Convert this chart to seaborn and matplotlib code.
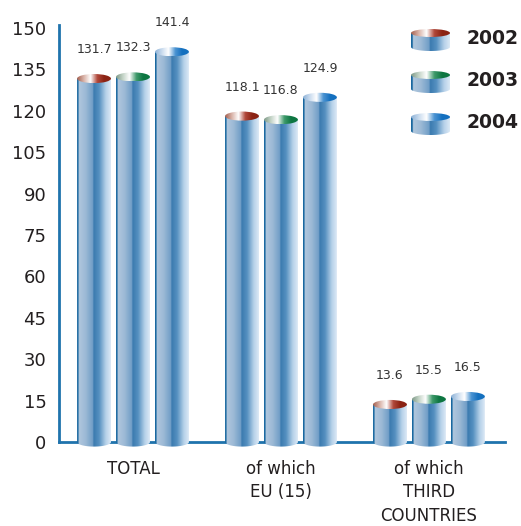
import numpy as np
import pandas as pd
import matplotlib
matplotlib.use('Agg')
import matplotlib.pyplot as plt
import seaborn as sns
from matplotlib.colors import LinearSegmentedColormap
from matplotlib.patches import Ellipse, Polygon

# Data
categories = ['TOTAL', 'of which\nEU (15)', 'of which\nTHIRD\nCOUNTRIES']
years = ['2002', '2003', '2004']
v2002 = [131.7, 118.1, 13.6]
v2003 = [132.3, 116.8, 15.5]
v2004 = [141.4, 124.9, 16.5]
yticks = list(range(0, 151, 15))

df = pd.DataFrame({
    'category': categories * 3,
    'year': np.repeat(years, 3),
    'value': v2002 + v2003 + v2004,
})

# cylinder colours
body_cmap = LinearSegmentedColormap.from_list('body', [
    (0.00, '#1a68a0'), (0.04, '#1a68a0'), (0.05, '#b0c7dd'),
    (0.25, '#9dbad6'), (0.47, '#6f9dc6'), (0.49, '#3a7aaf'),
    (0.65, '#5590c0'), (0.85, '#b6d1e9'), (1.00, '#dce9f6')])
top_cmaps = {
    '2002': LinearSegmentedColormap.from_list('c02', ['#a4604f', '#d9b3a8', '#ffffff', '#b0483a', '#8c2314', '#8a2314']),
    '2003': LinearSegmentedColormap.from_list('c03', ['#7f9a88', '#c3d3c6', '#ffffff', '#3f9a6b', '#0d7641', '#0d7641']),
    '2004': LinearSegmentedColormap.from_list('c04', ['#8db1d6', '#c9dbee', '#ffffff', '#4a93d2', '#1470bf', '#1470bf']),
}
grad = np.linspace(0, 1, 256).reshape(1, -1)
axis_blue = '#1f73ad'
text_col = '#231f20'


def draw_cylinder(ax, x0, w, y0, y1, eh, cmap, z=3):
    cx = x0 + w / 2
    t = np.linspace(0, -np.pi, 60)
    pts = [(x0, y1), (x0 + w, y1)] + list(zip(cx + w / 2 * np.cos(t), y0 + eh / 2 * np.sin(t)))
    clip = Polygon(pts, closed=True, transform=ax.transData, facecolor='none', edgecolor='none')
    im = ax.imshow(grad, cmap=body_cmap, extent=[x0, x0 + w, y0 - eh / 2, y1],
                   aspect='auto', interpolation='bilinear', zorder=z)
    im.set_clip_path(clip)
    ell = Ellipse((cx, y1), w, eh, transform=ax.transData)
    im2 = ax.imshow(grad, cmap=cmap, extent=[x0, x0 + w, y1 - eh / 2, y1 + eh / 2],
                    aspect='auto', interpolation='bilinear', zorder=z + 0.1)
    im2.set_clip_path(ell)


sns.set_theme(style='white')
plt.rcParams['font.family'] = ['DejaVu Sans']

fig = plt.figure(figsize=(5.21, 5.26), dpi=100)
ax = fig.add_axes([59 / 521, 75.7 / 526, 446 / 521, 425 / 526])

sns.barplot(data=df, x='category', y='value', hue='year', hue_order=years,
            width=0.79, gap=0.13, legend=False, ax=ax)

eh = 3.3
for year, cont in zip(years, ax.containers):
    for bar in cont:
        bar.set_visible(False)
        x0, w, h = bar.get_x(), bar.get_width(), bar.get_height()
        draw_cylinder(ax, x0, w, 0, h, eh, top_cmaps[year])
        ax.annotate(f'{h:.1f}', (x0 + w / 2, h), xytext=(0, 29), textcoords='offset pixels',
                    ha='center', va='center', fontsize=9, color='#333333')

ax.set_xlim(-0.5, 2.514)
ax.set_ylim(-3, 151)
ax.set_yticks(yticks)
ax.set_xlabel('')
ax.set_ylabel('')
ax.spines['top'].set_visible(False)
ax.spines['right'].set_visible(False)
ax.spines['bottom'].set_position(('data', 0))
for s in ['left', 'bottom']:
    ax.spines[s].set_color(axis_blue)
    ax.spines[s].set_linewidth(2)
ax.spines['left'].set_bounds(0, 151)
ax.tick_params(axis='y', length=0, pad=9, labelsize=13, labelcolor=text_col)
ax.tick_params(axis='x', length=0, pad=13, labelsize=12, labelcolor=text_col)
for lab in ax.get_xticklabels():
    lab.set_linespacing(1.38)
    lab.set_va('top')

# legend with cylinder icons
lax = fig.add_axes([0, 0, 1, 1])
lax.set_xlim(0, 521)
lax.set_ylim(0, 526)
lax.axis('off')
for i, year in enumerate(years):
    yc = 526 - (38 + i * 42)
    draw_cylinder(lax, 411, 39, yc - 9, yc + 5, 8, top_cmaps[year])
    lax.text(467, yc, year, fontsize=13.5, fontweight='bold', color=text_col, va='center', ha='left')
lax.set_xlim(0, 521)
lax.set_ylim(0, 526)

fig.savefig('out.png', dpi=100)
